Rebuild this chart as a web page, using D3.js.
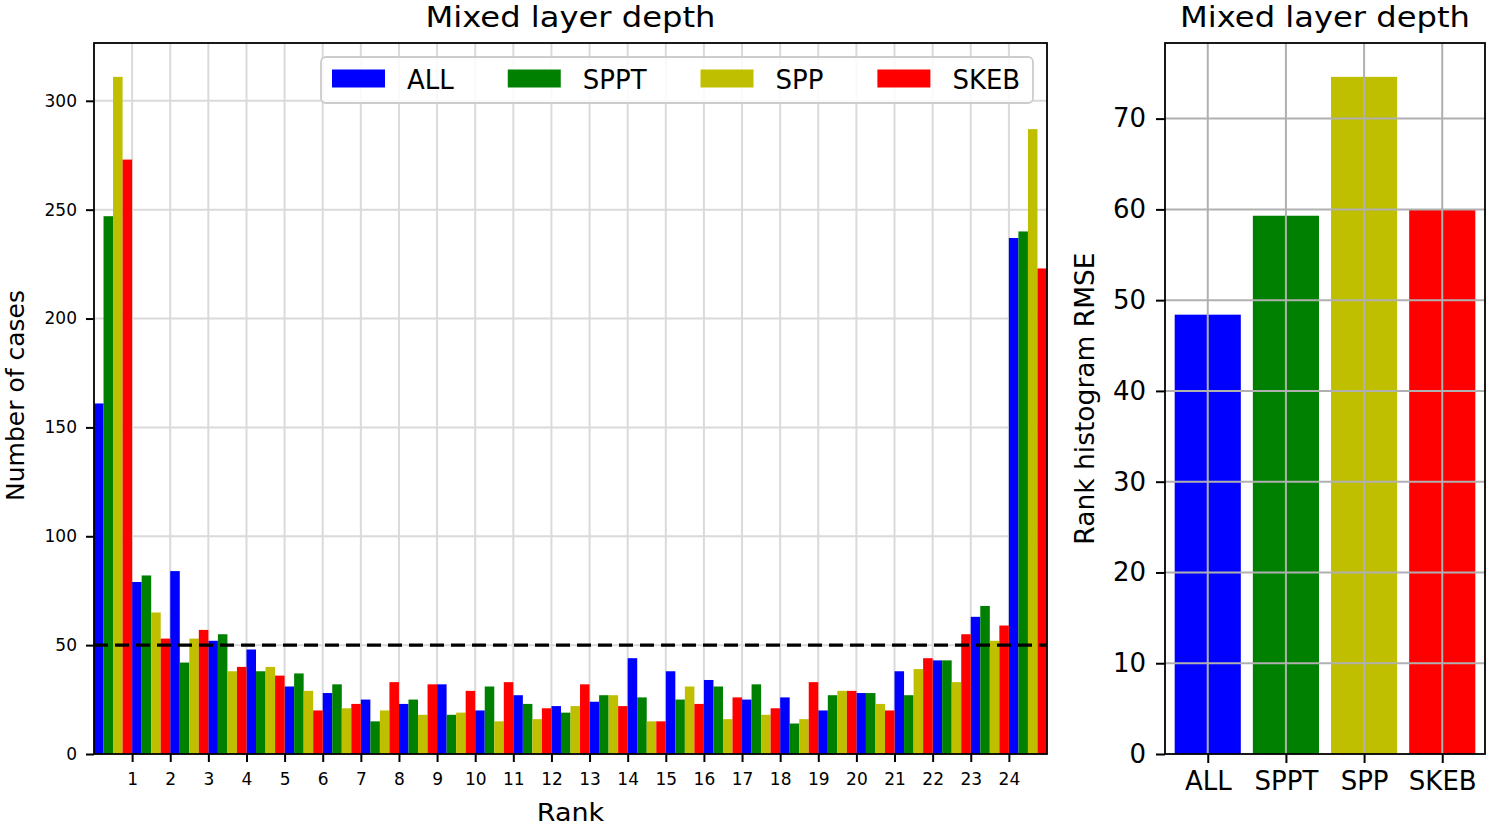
<!DOCTYPE html>
<html>
<head>
<meta charset="utf-8">
<script src="https://cdn.jsdelivr.net/npm/d3@7"></script>
<style>
  html, body { margin: 0; padding: 0; background: #fff; }
  svg { display: block; font-family: "DejaVu Sans", sans-serif; }
</style>
</head>
<body>
<svg id="fig" width="1486" height="831"></svg>
<script>
// Rank histogram counts (ranks 0..24) for each ensemble configuration
const ranks = d3.range(25);
const tickRanks = d3.range(1, 25);
const seriesNames = ["ALL", "SPPT", "SPP", "SKEB"];
const seriesColors = ["#0000ff", "#008000", "#bfbf00", "#ff0000"];
const countsALL  = [161, 79, 84, 52, 48, 31, 28, 25, 23, 32, 20, 27, 22, 24, 44, 38, 34, 25, 26, 20, 28, 38, 43, 63, 237];
const countsSPPT = [247, 82, 42, 55, 38, 37, 32, 15, 25, 18, 31, 23, 19, 27, 26, 25, 31, 32, 14, 27, 28, 27, 43, 68, 240];
const countsSPP  = [311, 65, 53, 38, 40, 29, 21, 20, 18, 19, 15, 16, 22, 27, 15, 31, 16, 18, 16, 29, 23, 39, 33, 52, 287];
const countsSKEB = [273, 53, 57, 40, 36, 20, 23, 33, 32, 29, 33, 21, 32, 22, 15, 23, 26, 21, 33, 29, 20, 44, 55, 59, 223];
const expectedCount = 50;
const leftTicks = [0, 50, 100, 150, 200, 250, 300];

// RMSE of each rank histogram against the flat expectation
const rmseValues = [48.4, 59.3, 74.6, 60.0];
const rightTicks = [0, 10, 20, 30, 40, 50, 60, 70];

const allCounts = [countsALL, countsSPPT, countsSPP, countsSKEB];

const svg = d3.select("#fig");

// horizontally widened text, drawn centred on (x, y)
function wideText(g, x, y, str, size, sx) {
  return g.append("text")
    .attr("transform", `translate(${x},${y}) scale(${sx},1)`)
    .attr("text-anchor", "middle").style("font-size", size + "px").text(str);
}

// ---------- left panel: grouped rank histogram ----------
const L = { x0: 94, x1: 1047, y0: 43, y1: 754 };
const maxCount = d3.max(allCounts.flat());
const xL = d3.scaleLinear().domain([0, ranks.length]).range([L.x0, L.x1]);
const yL = d3.scaleLinear().domain([0, maxCount * 1.05]).range([L.y1, L.y0]);
const barW = 1 / seriesNames.length;

const gL = svg.append("g");

// grid below the bars
const gridL = gL.append("g").attr("stroke", "#dadada").attr("stroke-width", 2);
gridL.selectAll("line.v").data(tickRanks).join("line")
  .attr("x1", d => xL(d)).attr("x2", d => xL(d))
  .attr("y1", L.y0).attr("y2", L.y1);
gridL.selectAll("line.h").data(leftTicks.slice(1)).join("line")
  .attr("x1", L.x0).attr("x2", L.x1)
  .attr("y1", d => yL(d)).attr("y2", d => yL(d));

const barData = [];
allCounts.forEach((arr, j) => arr.forEach((v, i) => barData.push({ i, j, v })));
gL.append("g").selectAll("rect").data(barData).join("rect")
  .attr("x", d => xL(d.i + d.j * barW))
  .attr("width", xL(barW) - xL(0))
  .attr("y", d => yL(d.v))
  .attr("height", d => yL(0) - yL(d.v))
  .attr("fill", d => seriesColors[d.j]);

// flat-histogram reference
gL.append("line")
  .attr("x1", L.x0).attr("x2", L.x1)
  .attr("y1", yL(expectedCount)).attr("y2", yL(expectedCount))
  .attr("stroke", "#000").attr("stroke-width", 3.4)
  .attr("stroke-dasharray", "14,7");

// axes
const axL = gL.append("g").attr("transform", `translate(0,${L.y1})`)
  .call(d3.axisBottom(xL).tickValues(tickRanks).tickSize(8).tickPadding(11).tickFormat(d3.format("d")));
const ayL = gL.append("g").attr("transform", `translate(${L.x0},0)`)
  .call(d3.axisLeft(yL).tickValues(leftTicks).tickSize(8).tickPadding(9).tickFormat(d3.format("d")));
[axL, ayL].forEach(a => {
  a.select(".domain").remove();
  a.selectAll(".tick line").attr("stroke", "#000").attr("stroke-width", 2);
  a.selectAll(".tick text").attr("fill", "#000").style("font-size", "17px").style("font-family", "DejaVu Sans");
});

gL.append("rect")
  .attr("x", L.x0).attr("y", L.y0)
  .attr("width", L.x1 - L.x0).attr("height", L.y1 - L.y0)
  .attr("fill", "none").attr("stroke", "#000").attr("stroke-width", 1.8);

wideText(gL, (L.x0 + L.x1) / 2, 27, "Mixed layer depth", 29, 1.11);
wideText(gL, (L.x0 + L.x1) / 2, 821, "Rank", 25, 1.08);
gL.append("text")
  .attr("transform", `translate(24,${(L.y0 + L.y1) / 2 - 3}) rotate(-90)`)
  .attr("text-anchor", "middle").style("font-size", "25px").text("Number of cases");

// legend
const leg = gL.append("g");
leg.append("rect")
  .attr("x", 321).attr("y", 57).attr("width", 712).attr("height", 46)
  .attr("rx", 5).attr("fill", "#fff").attr("fill-opacity", 0.85)
  .attr("stroke", "#cccccc").attr("stroke-width", 1.8);
let lx = 332;
seriesNames.forEach((name, j) => {
  leg.append("rect").attr("x", lx).attr("y", 69.5).attr("width", 53).attr("height", 18)
    .attr("fill", seriesColors[j]);
  const t = leg.append("text").attr("x", lx + 53 + 22).attr("y", 89)
    .style("font-size", "26px").text(name);
  lx += 53 + 22 + t.node().getComputedTextLength() + 54;
});

// ---------- right panel: RMSE bars ----------
const R = { x0: 1165, x1: 1485, y0: 43, y1: 754 };
const xR = d3.scaleLinear().domain([-0.547, seriesNames.length - 1 + 0.547]).range([R.x0, R.x1]);
const yR = d3.scaleLinear().domain([0, d3.max(rmseValues) * 1.05]).range([R.y1, R.y0]);
const bwR = 0.846;
const gR = svg.append("g");

gR.append("g").selectAll("rect").data(rmseValues).join("rect")
  .attr("x", (d, i) => xR(i - bwR / 2))
  .attr("width", xR(bwR) - xR(0))
  .attr("y", d => yR(d))
  .attr("height", d => yR(0) - yR(d))
  .attr("fill", (d, i) => seriesColors[i]);

// grid on top of bars
const gridR = gR.append("g").attr("stroke", "#b0b0b0").attr("stroke-width", 2);
gridR.selectAll("line.v").data(d3.range(seriesNames.length)).join("line")
  .attr("x1", d => xR(d)).attr("x2", d => xR(d))
  .attr("y1", R.y0).attr("y2", R.y1);
gridR.selectAll("line.h").data(rightTicks.slice(1)).join("line")
  .attr("x1", R.x0).attr("x2", R.x1)
  .attr("y1", d => yR(d)).attr("y2", d => yR(d));

const axR = gR.append("g").attr("transform", `translate(0,${R.y1})`)
  .call(d3.axisBottom(xR).tickValues(d3.range(seriesNames.length)).tickSize(9).tickPadding(9)
    .tickFormat(i => seriesNames[i]));
const ayR = gR.append("g").attr("transform", `translate(${R.x0},0)`)
  .call(d3.axisLeft(yR).tickValues(rightTicks).tickSize(9).tickPadding(10).tickFormat(d3.format("d")));
[axR, ayR].forEach(a => {
  a.select(".domain").remove();
  a.selectAll(".tick line").attr("stroke", "#000").attr("stroke-width", 2);
  a.selectAll(".tick text").attr("fill", "#000").style("font-size", "26px").style("font-family", "DejaVu Sans");
});

gR.append("rect")
  .attr("x", R.x0).attr("y", R.y0)
  .attr("width", R.x1 - R.x0).attr("height", R.y1 - R.y0)
  .attr("fill", "none").attr("stroke", "#000").attr("stroke-width", 1.8);

wideText(gR, (R.x0 + R.x1) / 2, 27, "Mixed layer depth", 29, 1.11);
gR.append("text")
  .attr("transform", `translate(1094,${(R.y0 + R.y1) / 2}) rotate(-90)`)
  .attr("text-anchor", "middle").style("font-size", "26.5px").text("Rank histogram RMSE");
</script>
</body>
</html>
